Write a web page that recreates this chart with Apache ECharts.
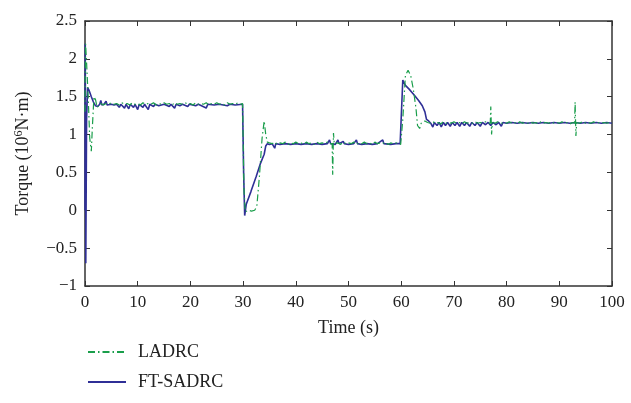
<!DOCTYPE html>
<html>
<head>
<meta charset="utf-8">
<script src="https://cdn.jsdelivr.net/npm/echarts@6/dist/echarts.min.js"></script>
<style>
html,body{margin:0;padding:0;background:#fff;}
#chart{width:631px;height:403px;}
</style>
</head>
<body>
<div id="chart"></div>
<script>
// Series names
const seriesNames = ['LADRC', 'FT-SADRC'];
// Axis settings
const xTicks = [0, 10, 20, 30, 40, 50, 60, 70, 80, 90, 100];
const yTicks = [-1, -0.5, 0, 0.5, 1, 1.5, 2, 2.5];

// LADRC: [time (s), torque (10^6 N·m)]
const ladrc = [
  [0,1.30],[0.1,2.20],[0.3,1.95],[0.6,1.50],[0.9,0.95],[1.2,0.78],[1.4,1.10],[1.7,1.50],[2.0,1.46],[2.3,1.36],[2.6,1.38],
  [3,1.41],[3.5,1.39],[4,1.41],[4.5,1.40],[5,1.42],[5.5,1.40],[6,1.41],[6.5,1.39],[7,1.42],[7.5,1.40],[8,1.41],[8.5,1.39],
  [9,1.42],[9.5,1.40],[10,1.41],[10.5,1.39],[11,1.42],[11.5,1.40],[12,1.41],[12.5,1.40],[13,1.42],[13.5,1.39],[14,1.41],
  [14.5,1.40],[15,1.42],[15.5,1.40],[16,1.41],[16.5,1.39],[17,1.42],[17.5,1.40],[18,1.41],[18.5,1.40],[19,1.42],[19.5,1.40],
  [20,1.41],[20.5,1.39],[21,1.42],[21.5,1.40],[22,1.41],[22.5,1.40],[23,1.42],[23.5,1.39],[24,1.41],[24.5,1.40],[25,1.42],
  [25.5,1.40],[26,1.41],[26.5,1.39],[27,1.42],[27.5,1.40],[28,1.41],[28.5,1.40],[29,1.42],[29.5,1.40],[29.9,1.41],
  [30.15,0.30],[30.4,-0.02],[31,0.00],[31.6,-0.01],[32.2,0.00],[32.6,0.05],[33.1,0.45],[33.6,0.95],[34.0,1.18],[34.3,1.00],
  [34.6,0.90],[35,0.89],[35.5,0.88],[36,0.90],[36.5,0.87],[37,0.89],[37.5,0.88],[38,0.90],[38.5,0.87],[39,0.89],[39.5,0.88],
  [40,0.90],[40.5,0.88],[41,0.89],[41.5,0.87],[42,0.90],[42.5,0.88],[43,0.89],[43.5,0.87],[44,0.90],[44.5,0.88],[45,0.89],
  [45.5,0.88],[46,0.90],[46.5,0.88],[46.9,0.88],[47.0,0.47],[47.15,1.02],[47.3,0.88],[48,0.89],[48.5,0.87],[49,0.90],
  [49.5,0.88],[50,0.89],[50.5,0.88],[51,0.90],[51.5,0.87],[52,0.89],[52.5,0.88],[53,0.90],[53.5,0.88],[54,0.89],[54.5,0.87],
  [55,0.90],[55.5,0.88],[56,0.89],[56.5,0.88],[57,0.90],[57.5,0.87],[58,0.89],[58.5,0.88],[59,0.89],[59.9,0.87],
  [60.3,1.20],[60.8,1.78],[61.3,1.85],[61.8,1.78],[62.3,1.60],[62.8,1.35],[63.1,1.12],[63.5,1.08],[63.8,1.15],[64.5,1.18],
  [65,1.16],[65.5,1.15],[66,1.17],[66.5,1.15],[67,1.16],[67.5,1.14],[68,1.17],[68.5,1.15],[69,1.16],[69.5,1.15],[70,1.17],
  [70.5,1.15],[71,1.16],[71.5,1.14],[72,1.17],[72.5,1.15],[73,1.16],[73.5,1.15],[74,1.17],[74.5,1.15],[75,1.16],[75.5,1.15],
  [76,1.17],[76.5,1.15],[76.9,1.15],[77.0,1.37],[77.15,1.00],[77.3,1.16],[77.8,1.15],[78.3,1.17],[79,1.15],[79.5,1.16],
  [80,1.15],[80.5,1.17],[81,1.15],[81.5,1.16],[82,1.14],[82.5,1.17],[83,1.15],[83.5,1.16],[84,1.15],[84.5,1.17],[85,1.15],
  [85.5,1.16],[86,1.14],[86.5,1.17],[87,1.15],[87.5,1.16],[88,1.15],[88.5,1.17],[89,1.15],[89.5,1.16],[90,1.15],[90.5,1.17],
  [91,1.15],[91.5,1.16],[92,1.14],[92.5,1.16],[92.9,1.15],[93.0,1.43],[93.15,0.98],[93.3,1.16],[93.8,1.15],[94.5,1.17],
  [95,1.15],[95.5,1.16],[96,1.15],[96.5,1.17],[97,1.15],[97.5,1.16],[98,1.15],[98.5,1.16],[99,1.15],[99.5,1.16],[100,1.15]
];

// FT-SADRC: [time (s), torque (10^6 N·m)]
const ftsadrc = [
  [0,0.00],[0.05,2.20],[0.15,-0.70],[0.3,1.20],[0.5,1.62],[0.8,1.58],[1.2,1.50],[1.6,1.43],[2.0,1.38],[2.4,1.37],[2.8,1.40],
  [3.0,1.45],[3.2,1.39],[3.6,1.40],[4.0,1.44],[4.2,1.39],[5,1.40],[5.5,1.39],[6,1.40],[6.5,1.36],[6.8,1.40],[7.5,1.35],
  [7.8,1.40],[8.3,1.34],[8.6,1.40],[9.2,1.36],[9.5,1.40],[10,1.33],[10.3,1.40],[11,1.36],[11.3,1.40],[12,1.33],[12.3,1.40],
  [13,1.37],[13.3,1.40],[14,1.38],[15,1.40],[16,1.37],[16.3,1.40],[17,1.35],[17.3,1.40],[18,1.38],[18.5,1.40],[19.5,1.37],
  [19.8,1.40],[21,1.38],[21.5,1.40],[23,1.35],[23.3,1.40],[24.5,1.39],[25.5,1.40],[27,1.38],[27.5,1.40],[28.5,1.39],[29.9,1.40],
  [30.1,0.50],[30.3,-0.07],[30.6,0.08],[31.5,0.25],[32.5,0.45],[33.3,0.62],[34.0,0.74],[34.3,0.85],[34.6,0.88],[35,0.87],
  [35.5,0.88],[36,0.82],[36.2,0.88],[37,0.87],[38,0.88],[39,0.87],[40,0.88],[41,0.87],[42,0.88],[43,0.87],[44,0.88],
  [45,0.87],[46,0.88],[46.4,0.93],[46.6,0.88],[47.5,0.87],[48,0.93],[48.2,0.88],[49,0.91],[49.2,0.88],[50,0.87],[51,0.88],
  [51.5,0.93],[51.7,0.88],[52.5,0.87],[53.5,0.88],[54.5,0.87],[55.5,0.88],[56.5,0.93],[56.7,0.88],[58,0.87],[59,0.88],[59.8,0.88],
  [60.3,1.72],[60.8,1.65],[61.5,1.60],[62.5,1.52],[63.3,1.45],[64.0,1.38],[64.5,1.30],[64.8,1.20],[65.2,1.18],[65.6,1.15],
  [66,1.10],[66.3,1.16],[66.8,1.12],[67.2,1.16],[67.6,1.10],[68,1.16],[68.4,1.12],[68.8,1.16],[69.3,1.11],[69.7,1.16],
  [70.2,1.12],[70.6,1.16],[71.1,1.11],[71.5,1.16],[72,1.12],[72.4,1.16],[73,1.11],[73.4,1.16],[74,1.12],[74.4,1.16],
  [75,1.11],[75.4,1.16],[76,1.13],[76.5,1.16],[77,1.12],[77.4,1.16],[78,1.13],[78.5,1.16],[79,1.11],[79.3,1.16],[80,1.15],
  [81,1.16],[82,1.15],[83,1.16],[84,1.15],[85,1.16],[86,1.15],[87,1.16],[88,1.15],[89,1.16],[90,1.15],[91,1.16],[92,1.15],
  [93,1.16],[94,1.15],[95,1.16],[96,1.15],[97,1.16],[98,1.15],[99,1.16],[100,1.15]
];

const colors = { LADRC: '#1a9e4b', FTSADRC: '#2f2f96' };
const font = 'Liberation Serif';
const axisColor = '#333';

const chart = echarts.init(document.getElementById('chart'), null, { renderer: 'canvas' });

const baseX = {
  type: 'value', min: xTicks[0], max: xTicks[xTicks.length - 1], interval: 10,
  splitLine: { show: false },
  axisLine: { show: true, onZero: false, lineStyle: { color: axisColor, width: 1.5 } },
  axisTick: { show: true, inside: true, length: 5, lineStyle: { color: axisColor } }
};
const baseY = {
  type: 'value', min: yTicks[0], max: yTicks[yTicks.length - 1], interval: 0.5,
  splitLine: { show: false },
  axisLine: { show: true, onZero: false, lineStyle: { color: axisColor, width: 1.5 } },
  axisTick: { show: true, inside: true, length: 5, lineStyle: { color: axisColor } }
};

chart.setOption({
  animation: false,
  backgroundColor: '#fff',
  grid: { left: 85, right: 19, top: 21, bottom: 117 },
  legend: {
    data: seriesNames,
    orient: 'vertical', left: 82, top: 338,
    itemWidth: 38, itemHeight: 14, itemGap: 12,
    itemStyle: { opacity: 0 },
    textStyle: { fontFamily: font, fontSize: 18, color: '#222', padding: [0, 0, 0, 7] }
  },
  xAxis: [
    Object.assign({}, baseX, {
      position: 'bottom',
      name: 'Time (s)', nameLocation: 'middle', nameGap: 33,
      nameTextStyle: { fontFamily: font, fontSize: 18, color: '#222' },
      axisLabel: { fontFamily: font, fontSize: 17, color: '#222', margin: 8 }
    }),
    Object.assign({}, baseX, { position: 'top', axisLabel: { show: false } })
  ],
  yAxis: [
    Object.assign({}, baseY, {
      position: 'left',
      name: '{n|Torque (10}{s|6}{n|N·m)}', nameLocation: 'middle', nameGap: 52,
      nameTextStyle: {
        fontFamily: font, fontSize: 18, color: '#222',
        rich: {
          n: { fontFamily: font, fontSize: 18, color: '#222' },
          s: { fontFamily: font, fontSize: 12, color: '#222', verticalAlign: 'top', padding: [0, 0, 8, 0] }
        }
      },
      axisLabel: {
        fontFamily: font, fontSize: 17, color: '#222', margin: 8,
        formatter: v => String(v).replace('-', '\u2212')
      }
    }),
    Object.assign({}, baseY, { position: 'right', axisLabel: { show: false } })
  ],
  series: [
    {
      name: 'FT-SADRC', type: 'line', data: ftsadrc, showSymbol: false, symbol: 'none',
      xAxisIndex: 0, yAxisIndex: 0, z: 2,
      lineStyle: { color: colors.FTSADRC, width: 1.6 },
      itemStyle: { color: colors.FTSADRC }
    },
    {
      name: 'LADRC', type: 'line', data: ladrc, showSymbol: false, symbol: 'none',
      xAxisIndex: 0, yAxisIndex: 0, z: 3,
      lineStyle: { color: colors.LADRC, width: 1.2, type: [7, 3, 1.5, 3] },
      itemStyle: { color: colors.LADRC }
    }
  ]
});
</script>
</body>
</html>
